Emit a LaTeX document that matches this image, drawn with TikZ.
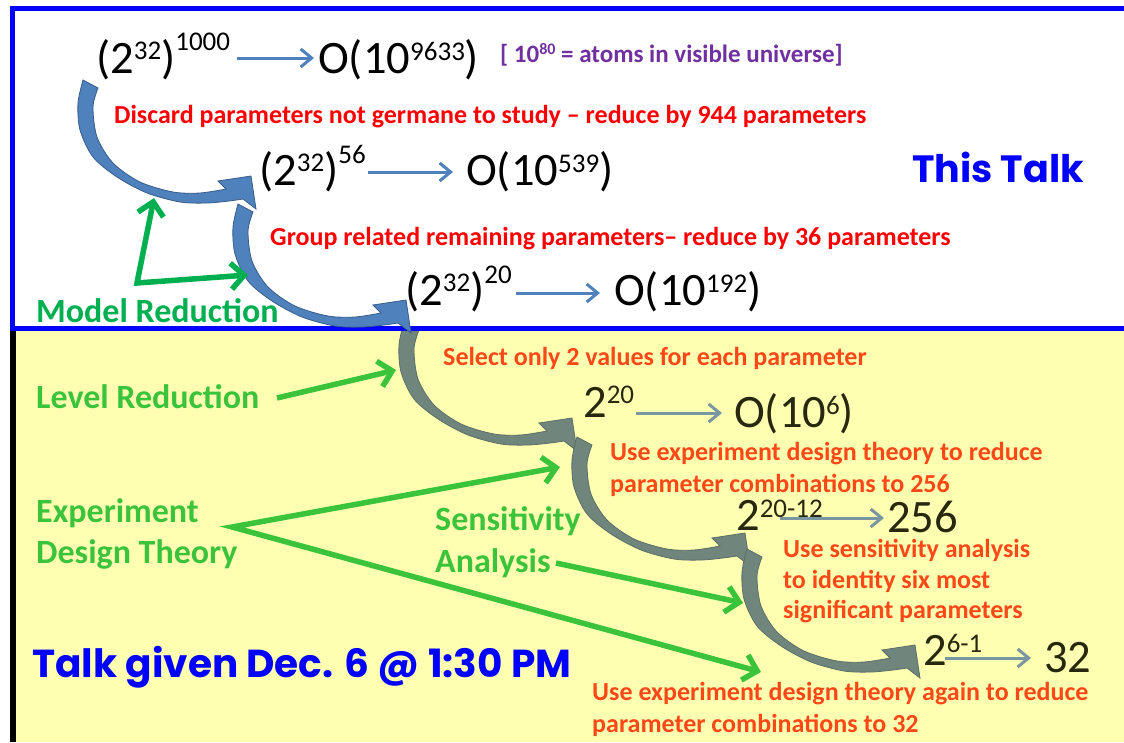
\documentclass[tikz,border=0pt]{standalone}
\usepackage{fontspec}
\setmainfont{Carlito}
\newfontfamily\comicf{Poppins}
\usetikzlibrary{arrows.meta}
\definecolor{bborder}{RGB}{0,0,255}
\definecolor{arrblue}{RGB}{79,129,189}
\definecolor{arredge}{RGB}{56,93,138}
\definecolor{arrgray}{RGB}{112,134,124}
\definecolor{arrgrayedge}{RGB}{92,110,102}
\definecolor{smallblue}{RGB}{79,129,189}
\definecolor{smallgray}{RGB}{122,150,160}
\definecolor{ylw}{RGB}{255,255,178}
\definecolor{mgreen}{RGB}{0,176,80}
\definecolor{lgreen}{RGB}{60,195,60}
\definecolor{ored}{RGB}{255,72,24}
\definecolor{dtext}{RGB}{40,40,16}
\definecolor{purp}{RGB}{112,48,160}
\definecolor{tblue}{RGB}{0,0,255}
\newcommand\supa[2]{\raisebox{#1pt}{\fontsize{27}{27}\selectfont #2}}
\newcommand\supb[2]{\raisebox{#1pt}{\fontsize{16}{16}\selectfont #2}}
\begin{document}
\begin{tikzpicture}[x=1pt,y=-1pt,
  big/.style={font=\fontsize{46.5}{50}\selectfont, anchor=base west, inner sep=0pt, text depth=0pt},
  lbl/.style={font=\fontsize{26}{30}\selectfont\bfseries, anchor=base west, inner sep=0pt},
  glbl/.style={font=\fontsize{34}{38}\selectfont\bfseries, anchor=base west, inner sep=0pt},
  ctext/.style={font=\fontsize{38}{42}\selectfont\comicf\bfseries, anchor=base west, inner sep=0pt, text=tblue},
  smallarr/.style={line width=3pt, -{Straight Barb[length=11pt,width=18pt]}},
  garr/.style={line width=5.5pt, -{Straight Barb[length=13pt,width=26pt]}},
  garrboth/.style={line width=5.5pt, {Straight Barb[length=13pt,width=26pt]}-{Straight Barb[length=13pt,width=26pt]}},
  curv/.pic={
    \path[pic actions] plot[smooth] coordinates {(0,0) (-5,23) (-3,50) (10,77) (34,97) (64,113) (97,122) (124,123) (146,121) (160,119)}
      -- (173,129) -- (168,96) -- (135,101)
      -- plot[smooth] coordinates {(143,109) (117,113) (90,112) (57,102) (30,83) (14,57) (10,27) (15,8)} -- cycle;
  }]
\useasboundingbox (0,0) rectangle (1124,742);
% lower yellow area
\fill[ylw] (10,330) rectangle (1124,742);
\fill[black] (10,331) rectangle (16,742);
% curved arrow 3 (partly under the top box)
\pic[fill=arrgray, draw=arrgrayedge, line width=0.8pt] at (404,322) {curv};
% top box
\filldraw[fill=white, draw=bborder, line width=5.5pt] (12.5,8.5) rectangle (1135,328.5);
% curved arrows top
\pic[fill=arrblue, draw=arredge, line width=0.8pt] at (83,80) {curv};
\pic[fill=arrblue, draw=arredge, line width=0.8pt] at (238,204) {curv};
% curved arrows bottom
\pic[fill=arrgray, draw=arrgrayedge, line width=0.8pt] at (577,437) {curv};
\pic[fill=arrgray, draw=arrgrayedge, line width=0.8pt] at (747,549) {curv};

% top expressions
\node[big] (e1) at (96,73) {(2\supa{14}{32})\supa{23}{1000}};
\node[big] (o1) at (318,73) {O(10\supa{13}{9633})};
\node[font=\fontsize{25}{28}\selectfont\bfseries, anchor=base west, inner sep=0pt, text=purp] (atoms) at (500,62) {[ 10\supb{8}{80} = atoms in visible universe]};
\node[lbl, text=red] (t1) at (114,123) {Discard parameters not germane to study – reduce by 944 parameters};
\node[big] (e2) at (259,185) {(2\supa{14}{32})\supa{22}{56}};
\node[big] (o2) at (466,185) {O(10\supa{13}{539})};
\node[ctext] (talk) at (912,182) {This Talk};
\node[lbl, text=red] (t2) at (270,245) {Group related remaining parameters– reduce by 36 parameters};
\node[big] (e3) at (405,305) {(2\supa{14}{32})\supa{22}{20}};
\node[big] (o3) at (614,305) {O(10\supa{13}{192})};
\node[glbl, text=mgreen] (model) at (36,322) {Model Reduction};

% top small arrows
\coordinate (a1s) at (237,58); \coordinate (a1e) at (314,58);
\coordinate (a2s) at (368,172); \coordinate (a2e) at (453,172);
\coordinate (a3s) at (516,293); \coordinate (a3e) at (600,293);
\draw[smallarr, smallblue] (a1s) -- (a1e);
\draw[smallarr, smallblue] (a2s) -- (a2e);
\draw[smallarr, smallblue] (a3s) -- (a3e);

% model reduction arrows
\coordinate (mu) at (154,198); \coordinate (mv) at (137,283); \coordinate (mr) at (248,275);
\draw[garrboth, mgreen, line join=miter] (mu) -- (mv) -- (mr);

% bottom texts
\node[lbl, text=ored] (t3) at (443,365) {Select only 2 values for each parameter};
\node[glbl, text=lgreen] (level) at (36,408) {Level Reduction};
\node[big, text=dtext] (e4) at (583,417) {2\supa{14}{20}};
\node[big, text=dtext] (o4) at (734,427) {O(10\supa{13}{6})};
\node[lbl, text=ored] (t4) at (610,460) {Use experiment design theory to reduce};
\node[lbl, text=ored] (t4b) at (610,492) {parameter combinations to 256};
\node[glbl, text=lgreen] (exp1) at (36,522) {Experiment};
\node[glbl, text=lgreen] (exp2) at (36,563) {Design Theory};
\node[glbl, text=lgreen] (sen1) at (435,530) {Sensitivity};
\node[glbl, text=lgreen] (sen2) at (435,572) {Analysis};
\node[big, text=dtext] (e5) at (736,530) {2\supa{13}{20-12}};
\node[big, text=dtext] (o5) at (887,532) {256};
\node[lbl, text=ored] (t5a) at (783,557) {Use sensitivity analysis};
\node[lbl, text=ored] (t5b) at (783,588) {to identity six most};
\node[lbl, text=ored] (t5c) at (783,618) {significant parameters};
\node[big, text=dtext] (e6) at (923,665) {2\supa{13}{6-1}};
\node[big, text=dtext] (o6) at (1044,672) {32};
\node[ctext, font=\fontsize{39}{42}\selectfont\comicf\bfseries] (given) at (32,677) {Talk given Dec. 6 @ 1:30 PM};
\node[lbl, text=ored] (t6a) at (592,700) {Use experiment design theory again to reduce};
\node[lbl, text=ored] (t6b) at (592,732) {parameter combinations to 32};

% bottom small arrows
\coordinate (a4s) at (636,413); \coordinate (a4e) at (722,413);
\coordinate (a5s) at (780,518); \coordinate (a5e) at (884,518);
\coordinate (a6s) at (945,658); \coordinate (a6e) at (1031,658);
\draw[smallarr, smallgray] (a4s) -- (a4e);
\draw[smallarr, smallgray] (a5s) -- (a5e);
\draw[smallarr, smallgray] (a6s) -- (a6e);

% green arrows bottom
\coordinate (ls) at (277,398); \coordinate (le) at (396,370);
\draw[garr, lgreen] (ls) -- (le);
\coordinate (eu) at (560,467); \coordinate (ev) at (232,527); \coordinate (ed) at (761,672);
\draw[garrboth, lgreen, line join=miter] (eu) -- (ev) -- (ed);
\coordinate (ss) at (556,563); \coordinate (se) at (743,603);
\draw[garr, lgreen] (ss) -- (se);
\end{tikzpicture}
\end{document}
